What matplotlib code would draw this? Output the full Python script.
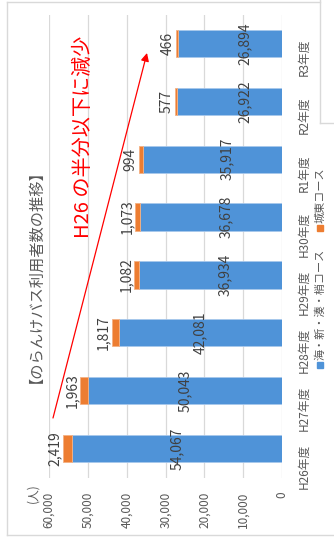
import numpy as np
import matplotlib
matplotlib.use('Agg')
import matplotlib.pyplot as plt
from matplotlib.patches import Rectangle
from matplotlib.lines import Line2D

plt.rcParams['font.family'] = ['Noto Sans CJK JP', 'DejaVu Sans']

years = ['H26年度', 'H27年度', 'H28年度', 'H29年度', 'H30年度', 'R1年度', 'R2年度', 'R3年度']
umi_course = [54067, 50043, 42081, 36934, 36678, 35917, 26922, 26894]
joto_course = [2419, 1963, 1817, 1082, 1073, 994, 577, 466]
legend_names = ['海・新・湊・梢コース', '城東コース']
value_ticks = [0, 10000, 20000, 30000, 40000, 50000, 60000]

blue = '#4f93d8'
orange = '#ed7d31'
grey = '#595959'

W, H = 334, 548
fig = plt.figure(figsize=(W / 100, H / 100), dpi=100)
fig.patch.set_facecolor('white')

# chart is laid out turned on its side: values run right-to-left, years bottom-to-top
ax = fig.add_axes([49 / W, 1 - 477.5 / H, 233 / W, 463 / H])
pos = np.arange(len(years))
ax.barh(pos, umi_course, height=0.47, color=blue, edgecolor='#a8c8ec', lw=0.6, zorder=2)
ax.barh(pos, joto_course, left=umi_course, height=0.47, color=orange,
        edgecolor='#f4b183', lw=0.6, zorder=2)

ax.set_xlim(60000, 0)
ax.set_ylim(-0.5, len(years) - 0.5)
ax.set_xticks(value_ticks)
ax.set_xticklabels([f'{v:,}' for v in value_ticks], rotation=90)
ax.grid(axis='x', color='#d9d9d9', lw=0.9, zorder=0)
ax.set_axisbelow(True)
for s in ax.spines.values():
    s.set_visible(False)
ax.tick_params(axis='x', length=0, pad=10, labelsize=8.5, labelcolor=grey)

ax.yaxis.tick_right()
ax.set_yticks(pos)
ax.set_yticklabels(years, rotation=90)
ax.tick_params(axis='y', length=0, pad=11, labelsize=8.5, labelcolor=grey)

# value labels
nudge = [0, 0, 0, 3800, 3800, 3800, 3800, 3800]
for i, (u, o) in enumerate(zip(umi_course, joto_course)):
    ax.text(u / 2 - nudge[i], i, f'{u:,}', rotation=90, ha='center', va='center',
            fontsize=10, color='#404040', zorder=3)
    ax.annotate(f'{o:,}', xy=(u + o, i), xytext=(-1, 0), textcoords='offset points',
                rotation=90, ha='right', va='center', fontsize=10, color='#404040')

# unit, title
fig.text(33 / W, 1 - 493 / H, '(人)', rotation=90, ha='center', va='center',
         fontsize=8.5, color=grey)
fig.text(28 / W, 1 - 269 / H, '【のらんけバス利用者数の推移】', rotation=90,
         ha='center', va='center', fontsize=11, color=grey)

# legend
for (name, c, y0) in zip(legend_names, [blue, orange], [365, 228]):
    fig.add_artist(Rectangle((317 / W, 1 - (y0 + 3) / H), 6 / W, 6 / H,
                             transform=fig.transFigure, color=c))
    fig.text(320 / W, 1 - (y0 - 5) / H, name, rotation=90, ha='center', va='bottom',
             fontsize=8, color=grey)

# annotation
fig.text(83 / W, 1 - 137 / H, 'H26 の半分以下に減少', rotation=90, ha='center',
         va='center', fontsize=14.5, color='red')
ax.annotate('', xy=(147 / W, 1 - 53 / H), xytext=(53 / W, 1 - 418 / H),
            xycoords='figure fraction', textcoords='figure fraction',
            arrowprops=dict(arrowstyle='-|>', color='red', lw=0.9, mutation_scale=12,
                            shrinkA=0, shrinkB=0))

# frame lines
frame = '#d9d9d9'
for xs, ys in [([7, 7], [2, 535]), ([7, 334], [535, 535]), ([7, 320], [2, 2]),
               ([320, 320], [0, 123]), ([320, 334], [123, 123])]:
    fig.add_artist(Line2D([x / W for x in xs], [1 - y / H for y in ys],
                          transform=fig.transFigure, color=frame, lw=1))

fig.savefig('out.png', dpi=100)
